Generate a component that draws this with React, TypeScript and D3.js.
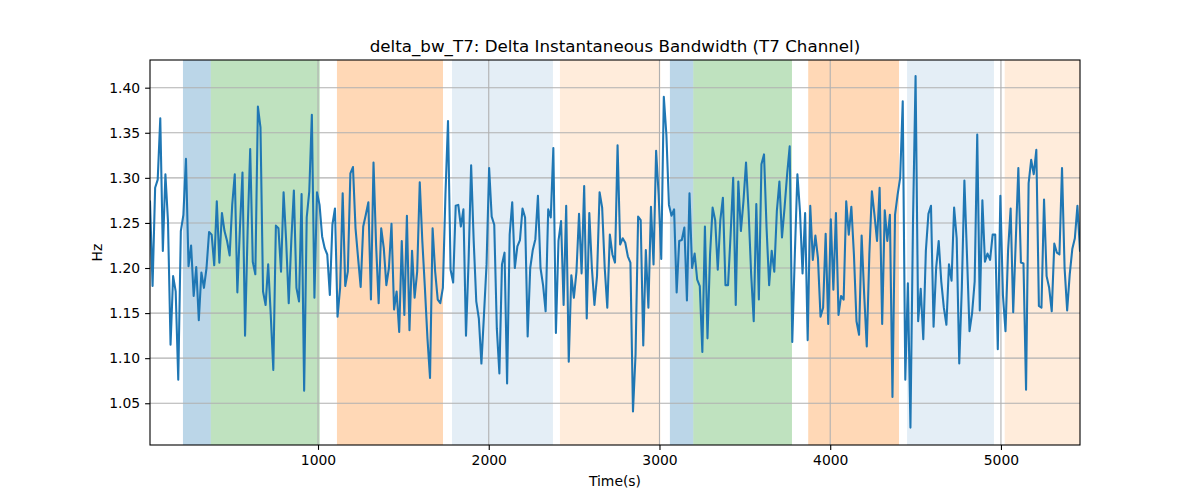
import { useRef, useEffect } from 'react'
import * as d3 from 'd3'

const W = 1200
const H = 500
const MARGIN = { top: 60, right: 120, bottom: 55, left: 150 }
const FONT = 'DejaVu Sans, sans-serif'

const TITLE = 'delta_bw_T7: Delta Instantaneous Bandwidth (T7 Channel)'
const X_LABEL = 'Time(s)'
const Y_LABEL = 'Hz'

// time base (seconds)
const T_START = 16
const T_END = 5463
const Y_DOMAIN = [1.0037, 1.4307]
const X_TICKS = [1000, 2000, 3000, 4000, 5000]
const Y_TICKS = [1.05, 1.1, 1.15, 1.2, 1.25, 1.3, 1.35, 1.4]

const BW_1 = [1.274, 1.180, 1.289, 1.298, 1.366, 1.219, 1.304, 1.252, 1.115, 1.191, 1.174, 1.076, 1.241, 1.259, 1.321, 1.202, 1.225, 1.169, 1.201, 1.142, 1.195, 1.178, 1.200, 1.240, 1.237, 1.203, 1.274, 1.206, 1.261, 1.241, 1.230, 1.214, 1.270, 1.304, 1.173, 1.244, 1.306, 1.125, 1.241, 1.332, 1.207, 1.193, 1.379, 1.356, 1.174, 1.159]
const BW_2 = [1.204, 1.148, 1.087, 1.247, 1.244, 1.196, 1.284, 1.230, 1.161, 1.230, 1.286, 1.178, 1.163, 1.282, 1.064, 1.256, 1.285, 1.370, 1.167, 1.284, 1.270, 1.235, 1.222, 1.215, 1.170, 1.248, 1.266, 1.146, 1.178, 1.283, 1.180, 1.196, 1.305, 1.312, 1.244, 1.211, 1.179, 1.246, 1.259, 1.273, 1.165, 1.317, 1.226, 1.161, 1.244]
const BW_3 = [1.222, 1.181, 1.200, 1.249, 1.154, 1.174, 1.129, 1.230, 1.148, 1.258, 1.131, 1.219, 1.167, 1.196, 1.295, 1.230, 1.178, 1.122, 1.078, 1.244, 1.196, 1.165, 1.161, 1.178, 1.281, 1.363, 1.198, 1.184, 1.269, 1.270, 1.246, 1.265, 1.125, 1.207, 1.314, 1.230, 1.163, 1.144, 1.094, 1.148, 1.204, 1.311, 1.257, 1.248, 1.133, 1.083]
const BW_4 = [1.204, 1.217, 1.072, 1.237, 1.273, 1.200, 1.224, 1.231, 1.266, 1.256, 1.124, 1.200, 1.220, 1.232, 1.280, 1.200, 1.181, 1.152, 1.265, 1.256, 1.333, 1.128, 1.230, 1.252, 1.159, 1.269, 1.096, 1.192, 1.167, 1.196, 1.260, 1.194, 1.291, 1.144, 1.261, 1.200, 1.159, 1.191, 1.284, 1.267, 1.200, 1.156, 1.237, 1.215, 1.206, 1.336]
const BW_5 = [1.226, 1.233, 1.228, 1.213, 1.206, 1.041, 1.104, 1.257, 1.253, 1.114, 1.220, 1.156, 1.268, 1.204, 1.330, 1.281, 1.210, 1.390, 1.348, 1.270, 1.258, 1.265, 1.173, 1.230, 1.231, 1.245, 1.164, 1.283, 1.200, 1.216, 1.187, 1.180, 1.107, 1.246, 1.122, 1.215, 1.267, 1.253, 1.198, 1.253, 1.278, 1.181, 1.181, 1.237, 1.300]
const BW_6 = [1.159, 1.296, 1.241, 1.274, 1.317, 1.263, 1.193, 1.141, 1.271, 1.165, 1.315, 1.326, 1.244, 1.181, 1.219, 1.196, 1.263, 1.296, 1.234, 1.267, 1.304, 1.335, 1.118, 1.215, 1.304, 1.263, 1.194, 1.261, 1.120, 1.269, 1.209, 1.236, 1.211, 1.146, 1.156, 1.238, 1.138, 1.254, 1.176, 1.261, 1.148, 1.169, 1.165, 1.274, 1.237, 1.268]
const BW_7 = [1.215, 1.141, 1.126, 1.236, 1.170, 1.113, 1.215, 1.285, 1.259, 1.230, 1.289, 1.138, 1.264, 1.230, 1.259, 1.057, 1.259, 1.281, 1.300, 1.385, 1.076, 1.183, 1.023, 1.252, 1.413, 1.141, 1.177, 1.121, 1.219, 1.260, 1.269, 1.135, 1.200, 1.230, 1.185, 1.156, 1.137, 1.204, 1.186, 1.267, 1.233, 1.094, 1.178, 1.297, 1.215, 1.130]
const BW_8 = [1.150, 1.185, 1.348, 1.153, 1.275, 1.207, 1.216, 1.209, 1.237, 1.237, 1.110, 1.280, 1.170, 1.130, 1.219, 1.266, 1.151, 1.230, 1.311, 1.206, 1.205, 1.065, 1.294, 1.320, 1.304, 1.331, 1.158, 1.156, 1.276, 1.191, 1.178, 1.152, 1.227, 1.217, 1.215, 1.311, 1.200, 1.153, 1.193, 1.221, 1.233, 1.269, 1.219]

// shaded phases
const SPAN_START = [209, 372, 1111, 1785, 2417, 3061, 3198, 3871, 4450, 5022]
const SPAN_END = [372, 1010, 1732, 2376, 3005, 3198, 3776, 4403, 4959, 5463]
const SPAN_KIND = ['blue', 'green', 'orange', 'lightblue', 'lightorange', 'blue', 'green', 'orange', 'lightblue', 'lightorange']

const SPAN_FILL: Record<string, [string, number]> = {
  blue: ['#1f77b4', 0.3],
  green: ['#2ca02c', 0.3],
  orange: ['#ff7f0e', 0.3],
  lightblue: ['#1f77b4', 0.12],
  lightorange: ['#ff7f0e', 0.15],
}

const values = [...BW_1, ...BW_2, ...BW_3, ...BW_4, ...BW_5, ...BW_6, ...BW_7, ...BW_8]
const step = (T_END - T_START) / (values.length - 1)
const points: [number, number][] = values.map((v, i) => [T_START + i * step, v])

export default function App() {
  const xAxisRef = useRef<SVGGElement>(null)
  const yAxisRef = useRef<SVGGElement>(null)

  const innerW = W - MARGIN.left - MARGIN.right
  const innerH = H - MARGIN.top - MARGIN.bottom

  const x = d3.scaleLinear().domain([T_START, T_END]).range([0, innerW])
  const y = d3.scaleLinear().domain(Y_DOMAIN).range([innerH, 0])

  const line = d3.line<[number, number]>()
    .x((d) => x(d[0]))
    .y((d) => y(d[1]))

  useEffect(() => {
    document.body.style.margin = '0'
    if (!xAxisRef.current || !yAxisRef.current) return

    d3.select(xAxisRef.current)
      .call(d3.axisBottom(x).tickValues(X_TICKS).tickSize(4.9).tickPadding(4.9).tickFormat(d3.format('d')))
      .call((g) => {
        g.select('.domain').remove()
        g.attr('font-family', FONT).attr('font-size', 13.9)
        g.selectAll('.tick line').attr('stroke', '#000').attr('stroke-width', 1.1)
        g.selectAll('text').attr('fill', '#000')
      })

    d3.select(yAxisRef.current)
      .call(d3.axisLeft(y).tickValues(Y_TICKS).tickSize(4.9).tickPadding(4.9).tickFormat(d3.format('.2f')))
      .call((g) => {
        g.select('.domain').remove()
        g.attr('font-family', FONT).attr('font-size', 13.9)
        g.selectAll('.tick line').attr('stroke', '#000').attr('stroke-width', 1.1)
        g.selectAll('text').attr('fill', '#000')
      })
  }, [])

  return (
    <svg width={W} height={H} style={{ position: 'absolute', left: 0, top: 0, background: '#fff' }}>
      <defs>
        <clipPath id="plot-clip">
          <rect x={0} y={0} width={innerW} height={innerH} />
        </clipPath>
      </defs>
      <g transform={`translate(${MARGIN.left},${MARGIN.top})`}>
        {/* spans */}
        <g clipPath="url(#plot-clip)">
          {SPAN_START.map((s, i) => {
            const [fill, op] = SPAN_FILL[SPAN_KIND[i]]
            return (
              <rect key={i} x={x(s)} y={0} width={x(SPAN_END[i]) - x(s)} height={innerH}
                fill={fill} fillOpacity={op} />
            )
          })}
        </g>

        {/* grid */}
        {X_TICKS.map((t) => (
          <line key={`gx${t}`} x1={x(t)} x2={x(t)} y1={0} y2={innerH} stroke="#b0b0b0" strokeWidth={1.1} />
        ))}
        {Y_TICKS.map((t) => (
          <line key={`gy${t}`} x1={0} x2={innerW} y1={y(t)} y2={y(t)} stroke="#b0b0b0" strokeWidth={1.1} />
        ))}

        {/* series */}
        <path d={line(points) ?? ''} fill="none" stroke="#1f77b4" strokeWidth={2.08}
          strokeLinejoin="round" strokeLinecap="round" clipPath="url(#plot-clip)" />

        {/* frame */}
        <rect x={0} y={0} width={innerW} height={innerH} fill="none" stroke="#000" strokeWidth={1.1} />

        <g ref={xAxisRef} transform={`translate(0,${innerH})`} />
        <g ref={yAxisRef} />

        <text x={innerW / 2} y={-8.3} textAnchor="middle" fontFamily={FONT} fontSize={16.7}>{TITLE}</text>
        <text x={innerW / 2} y={innerH + 41} textAnchor="middle" fontFamily={FONT} fontSize={13.9}>{X_LABEL}</text>
        <text transform={`translate(${-48},${innerH / 2}) rotate(-90)`} textAnchor="middle" fontFamily={FONT} fontSize={13.9}>{Y_LABEL}</text>
      </g>
    </svg>
  )
}
